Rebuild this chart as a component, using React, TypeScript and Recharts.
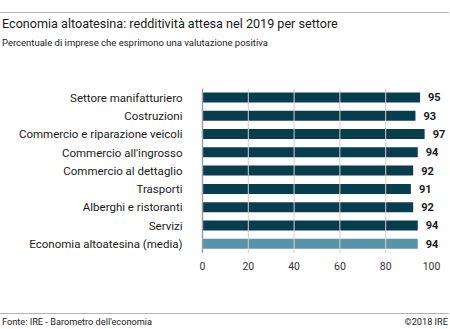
import React from 'react';
import { BarChart, Bar, XAxis, YAxis, Cell, LabelList, ReferenceLine } from 'recharts';

const sectors = [
  'Settore manifatturiero',
  'Costruzioni',
  'Commercio e riparazione veicoli',
  "Commercio all'ingrosso",
  'Commercio al dettaglio',
  'Trasporti',
  'Alberghi e ristoranti',
  'Servizi',
  'Economia altoatesina (media)',
];
const values = [95, 93, 97, 94, 92, 91, 92, 94, 94];
const xTicks = [0, 20, 40, 60, 80, 100];
const gridValues = [20, 40, 60, 80];

const data = sectors.map((name, i) => ({ name, value: values[i] }));

const DARK = '#083d50';
const LIGHT = '#5893a8';
const FONT = 'Roboto, sans-serif';

// plain text tick so long sector names stay on one line
const SectorTick = ({ x, y, payload }: any) => (
  <text x={x} y={y} dy="0.36em" textAnchor="end" fill="#1a1a1a" fontSize={11.5} fontFamily={FONT}>
    {payload.value}
  </text>
);

export default function App() {
  return (
    <div style={{ position: 'absolute', left: 0, top: 0, width: 450, height: 329, background: '#fff', fontFamily: FONT, overflow: 'hidden' }}>
      <div style={{ position: 'absolute', left: 0, top: 12, width: 449, borderTop: '1px solid #b3b3b3' }} />
      <div style={{ position: 'absolute', left: 2, top: 15.5, fontSize: 12.6, color: '#1a1a1a', whiteSpace: 'nowrap' }}>
        Economia altoatesina: redditività attesa nel 2019 per settore
      </div>
      <div style={{ position: 'absolute', left: 2, top: 36.5, fontSize: 9.5, color: '#1a1a1a', whiteSpace: 'nowrap' }}>
        Percentuale di imprese che esprimono una valutazione positiva
      </div>

      <div style={{ position: 'absolute', left: 0, top: 0 }}>
        <BarChart
          width={450}
          height={290}
          data={data}
          layout="vertical"
          margin={{ top: 88.5, right: 18.5, left: 0, bottom: 0 }}
          barSize={10}
        >
          {gridValues.map((v) => (
            <ReferenceLine key={v} x={v} stroke="#d0d0d0" strokeWidth={1} />
          ))}
          <XAxis
            type="number"
            domain={[0, 100]}
            ticks={xTicks}
            axisLine={false}
            tickLine={false}
            tickSize={0}
            tickMargin={10}
            height={37}
            tick={{ fill: '#333', fontSize: 10.5, fontFamily: FONT }}
          />
          <YAxis
            type="category"
            dataKey="name"
            width={202.5}
            axisLine={{ stroke: '#a0a0a0', strokeWidth: 1.5 }}
            tickLine={false}
            tickSize={0}
            tickMargin={20}
            interval={0}
            tick={<SectorTick />}
          />
          <Bar dataKey="value" isAnimationActive={false}>
            {data.map((d, i) => (
              <Cell key={d.name} fill={i === data.length - 1 ? LIGHT : DARK} />
            ))}
            <LabelList
              dataKey="value"
              position="right"
              offset={8}
              style={{ fill: '#1a1a1a', fontSize: 11, fontWeight: 700, fontFamily: FONT }}
            />
          </Bar>
        </BarChart>
      </div>

      <div style={{ position: 'absolute', left: 0, top: 313, width: 449, borderTop: '1px solid #b3b3b3' }} />
      <div style={{ position: 'absolute', left: 2, top: 315.5, fontSize: 9.2, color: '#1a1a1a', whiteSpace: 'nowrap' }}>
        Fonte: IRE - Barometro dell'economia
      </div>
      <div style={{ position: 'absolute', right: 2, top: 315.5, fontSize: 9.2, color: '#1a1a1a', whiteSpace: 'nowrap' }}>
        ©2018 IRE
      </div>
    </div>
  );
}
